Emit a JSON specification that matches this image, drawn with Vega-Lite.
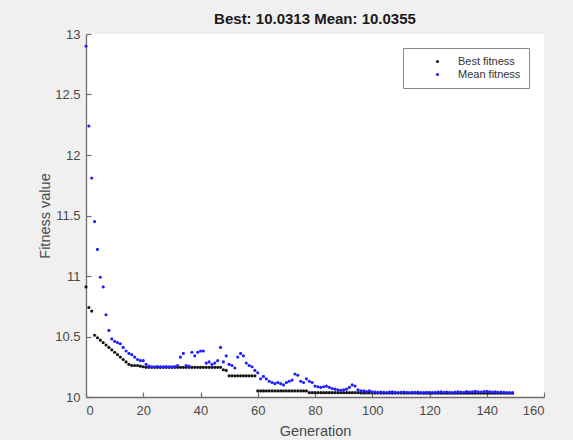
{
 "$schema": "https://vega.github.io/schema/vega-lite/v6.json",
 "width": 458,
 "height": 363,
 "autosize": "none",
 "padding": {"left": 86, "top": 34, "right": 29, "bottom": 43},
 "background": "#f0f0f0",
 "view": {"fill": "white", "stroke": null},
 "title": {"text": "Best: 10.0313 Mean: 10.0355", "fontSize": 15, "fontWeight": "bold", "font": "Liberation Sans", "color": "#1a1a1a", "offset": 1, "anchor": "middle"},
 "data": {"values": [
  {"g":0,"b":10.91,"m":12.9},{"g":1,"b":10.74,"m":12.24},{"g":2,"b":10.71,"m":11.81},{"g":3,"b":10.51,"m":11.45},{"g":4,"b":10.49,"m":11.22},
  {"g":5,"b":10.47,"m":10.99},{"g":6,"b":10.45,"m":10.91},{"g":7,"b":10.43,"m":10.68},{"g":8,"b":10.41,"m":10.55},{"g":9,"b":10.39,"m":10.48},
  {"g":10,"b":10.37,"m":10.46},{"g":11,"b":10.35,"m":10.45},{"g":12,"b":10.33,"m":10.44},{"g":13,"b":10.31,"m":10.41},{"g":14,"b":10.29,"m":10.38},
  {"g":15,"b":10.27,"m":10.36},{"g":16,"b":10.26,"m":10.35},{"g":17,"b":10.26,"m":10.33},{"g":18,"b":10.26,"m":10.31},{"g":19,"b":10.255,"m":10.3},
  {"g":20,"b":10.25,"m":10.3},{"g":21,"b":10.245,"m":10.27},{"g":22,"b":10.245,"m":10.255},{"g":23,"b":10.245,"m":10.25},{"g":24,"b":10.245,"m":10.25},
  {"g":25,"b":10.245,"m":10.252},{"g":26,"b":10.245,"m":10.25},{"g":27,"b":10.245,"m":10.25},{"g":28,"b":10.245,"m":10.251},{"g":29,"b":10.245,"m":10.25},
  {"g":30,"b":10.245,"m":10.25},{"g":31,"b":10.245,"m":10.252},{"g":32,"b":10.245,"m":10.26},{"g":33,"b":10.245,"m":10.33},{"g":34,"b":10.245,"m":10.36},
  {"g":35,"b":10.245,"m":10.26},{"g":36,"b":10.245,"m":10.255},{"g":37,"b":10.245,"m":10.37},{"g":38,"b":10.245,"m":10.34},{"g":39,"b":10.245,"m":10.37},
  {"g":40,"b":10.245,"m":10.38},{"g":41,"b":10.245,"m":10.38},{"g":42,"b":10.245,"m":10.28},{"g":43,"b":10.245,"m":10.29},{"g":44,"b":10.245,"m":10.27},
  {"g":45,"b":10.245,"m":10.28},{"g":46,"b":10.245,"m":10.3},{"g":47,"b":10.245,"m":10.41},{"g":48,"b":10.225,"m":10.29},{"g":49,"b":10.22,"m":10.34},
  {"g":50,"b":10.175,"m":10.27},{"g":51,"b":10.175,"m":10.26},{"g":52,"b":10.175,"m":10.24},{"g":53,"b":10.175,"m":10.33},{"g":54,"b":10.175,"m":10.36},
  {"g":55,"b":10.175,"m":10.34},{"g":56,"b":10.175,"m":10.28},{"g":57,"b":10.175,"m":10.26},{"g":58,"b":10.175,"m":10.25},{"g":59,"b":10.175,"m":10.22},
  {"g":60,"b":10.05,"m":10.2},{"g":61,"b":10.05,"m":10.15},{"g":62,"b":10.05,"m":10.17},{"g":63,"b":10.05,"m":10.15},{"g":64,"b":10.05,"m":10.13},
  {"g":65,"b":10.05,"m":10.12},{"g":66,"b":10.05,"m":10.11},{"g":67,"b":10.05,"m":10.12},{"g":68,"b":10.05,"m":10.11},{"g":69,"b":10.05,"m":10.1},
  {"g":70,"b":10.05,"m":10.12},{"g":71,"b":10.05,"m":10.13},{"g":72,"b":10.05,"m":10.14},{"g":73,"b":10.05,"m":10.19},{"g":74,"b":10.05,"m":10.18},
  {"g":75,"b":10.05,"m":10.13},{"g":76,"b":10.05,"m":10.12},{"g":77,"b":10.05,"m":10.15},{"g":78,"b":10.036,"m":10.13},{"g":79,"b":10.036,"m":10.12},
  {"g":80,"b":10.036,"m":10.09},{"g":81,"b":10.036,"m":10.085},{"g":82,"b":10.036,"m":10.08},{"g":83,"b":10.036,"m":10.085},{"g":84,"b":10.036,"m":10.09},
  {"g":85,"b":10.036,"m":10.08},{"g":86,"b":10.036,"m":10.07},{"g":87,"b":10.036,"m":10.065},{"g":88,"b":10.036,"m":10.06},{"g":89,"b":10.036,"m":10.055},
  {"g":90,"b":10.036,"m":10.06},{"g":91,"b":10.036,"m":10.065},{"g":92,"b":10.036,"m":10.08},{"g":93,"b":10.036,"m":10.1},{"g":94,"b":10.036,"m":10.09},
  {"g":95,"b":10.036,"m":10.06},{"g":96,"b":10.034,"m":10.05},{"g":97,"b":10.034,"m":10.05},{"g":98,"b":10.034,"m":10.045},{"g":99,"b":10.034,"m":10.05},
  {"g":100,"b":10.033,"m":10.042},{"g":101,"b":10.0325,"m":10.04},{"g":102,"b":10.0325,"m":10.038},{"g":103,"b":10.0325,"m":10.041},{"g":104,"b":10.0325,"m":10.039},
  {"g":105,"b":10.0325,"m":10.037},{"g":106,"b":10.0325,"m":10.04},{"g":107,"b":10.0325,"m":10.043},{"g":108,"b":10.0325,"m":10.038},{"g":109,"b":10.0325,"m":10.037},
  {"g":110,"b":10.0325,"m":10.039},{"g":111,"b":10.0325,"m":10.041},{"g":112,"b":10.0325,"m":10.038},{"g":113,"b":10.0325,"m":10.037},{"g":114,"b":10.0325,"m":10.039},
  {"g":115,"b":10.0325,"m":10.038},{"g":116,"b":10.032,"m":10.04},{"g":117,"b":10.032,"m":10.037},{"g":118,"b":10.032,"m":10.036},{"g":119,"b":10.032,"m":10.038},
  {"g":120,"b":10.032,"m":10.039},{"g":121,"b":10.032,"m":10.037},{"g":122,"b":10.032,"m":10.038},{"g":123,"b":10.032,"m":10.04},{"g":124,"b":10.032,"m":10.042},
  {"g":125,"b":10.032,"m":10.039},{"g":126,"b":10.032,"m":10.041},{"g":127,"b":10.032,"m":10.038},{"g":128,"b":10.032,"m":10.037},{"g":129,"b":10.032,"m":10.04},
  {"g":130,"b":10.032,"m":10.043},{"g":131,"b":10.0313,"m":10.041},{"g":132,"b":10.0313,"m":10.039},{"g":133,"b":10.0313,"m":10.045},{"g":134,"b":10.0313,"m":10.04},
  {"g":135,"b":10.0313,"m":10.042},{"g":136,"b":10.0313,"m":10.046},{"g":137,"b":10.0313,"m":10.043},{"g":138,"b":10.0313,"m":10.041},{"g":139,"b":10.0313,"m":10.044},
  {"g":140,"b":10.0313,"m":10.047},{"g":141,"b":10.0313,"m":10.043},{"g":142,"b":10.0313,"m":10.04},{"g":143,"b":10.0313,"m":10.042},{"g":144,"b":10.0313,"m":10.039},
  {"g":145,"b":10.0313,"m":10.041},{"g":146,"b":10.0313,"m":10.038},{"g":147,"b":10.0313,"m":10.037},{"g":148,"b":10.0313,"m":10.036},{"g":149,"b":10.0313,"m":10.0355}
 ]},
 "layer": [
  {
   "mark": {"type": "point", "filled": true, "shape": "circle", "size": 10, "opacity": 1},
   "encoding": {
    "x": {"field": "g", "type": "quantitative", "title": "Generation",
          "scale": {"domain": [0, 160], "nice": false},
          "axis": {"values": [0,20,40,60,80,100,120,140,160], "labelPadding": 12, "titlePadding": 7}},
    "y": {"field": "b", "type": "quantitative", "title": "Fitness value",
          "scale": {"domain": [10, 13], "nice": false, "zero": false},
          "axis": {"values": [10,10.5,11,11.5,12,12.5,13], "format": "~g", "labelPadding": 11, "titlePadding": 2}},
    "color": {"datum": "Best fitness", "type": "nominal",
              "scale": {"domain": ["Best fitness", "Mean fitness"], "range": ["#151515", "#2020ff"]},
              "legend": {"title": null}}
   }
  },
  {
   "mark": {"type": "point", "filled": true, "shape": "circle", "size": 10, "opacity": 1},
   "encoding": {
    "x": {"field": "g", "type": "quantitative", "title": "Generation"},
    "y": {"field": "m", "type": "quantitative", "title": "Fitness value"},
    "color": {"datum": "Mean fitness", "type": "nominal"}
   }
  }
 ],
 "config": {
  "font": "Liberation Sans",
  "axis": {"domainColor": "#6e6e6e", "tickColor": "#6e6e6e", "labelColor": "#4a4a4a", "titleColor": "#4a4a4a",
           "labelFont": "Liberation Sans", "titleFont": "Liberation Sans", "labelFontSize": 13, "titleFontSize": 14.5,
           "titleFontWeight": "normal", "grid": false, "tickSize": -5, "domainWidth": 1.3, "tickWidth": 1.2},
  "legend": {"orient": "none", "legendX": 317, "legendY": 14, "strokeColor": "#8a8a8a", "fillColor": "white",
             "padding": 8, "symbolOffset": 21, "labelOffset": 15, "labelFontSize": 11, "labelFont": "Liberation Sans",
             "labelColor": "#333333", "symbolSize": 10, "symbolType": "circle", "rowPadding": 1, "cornerRadius": 0}
 }
}
